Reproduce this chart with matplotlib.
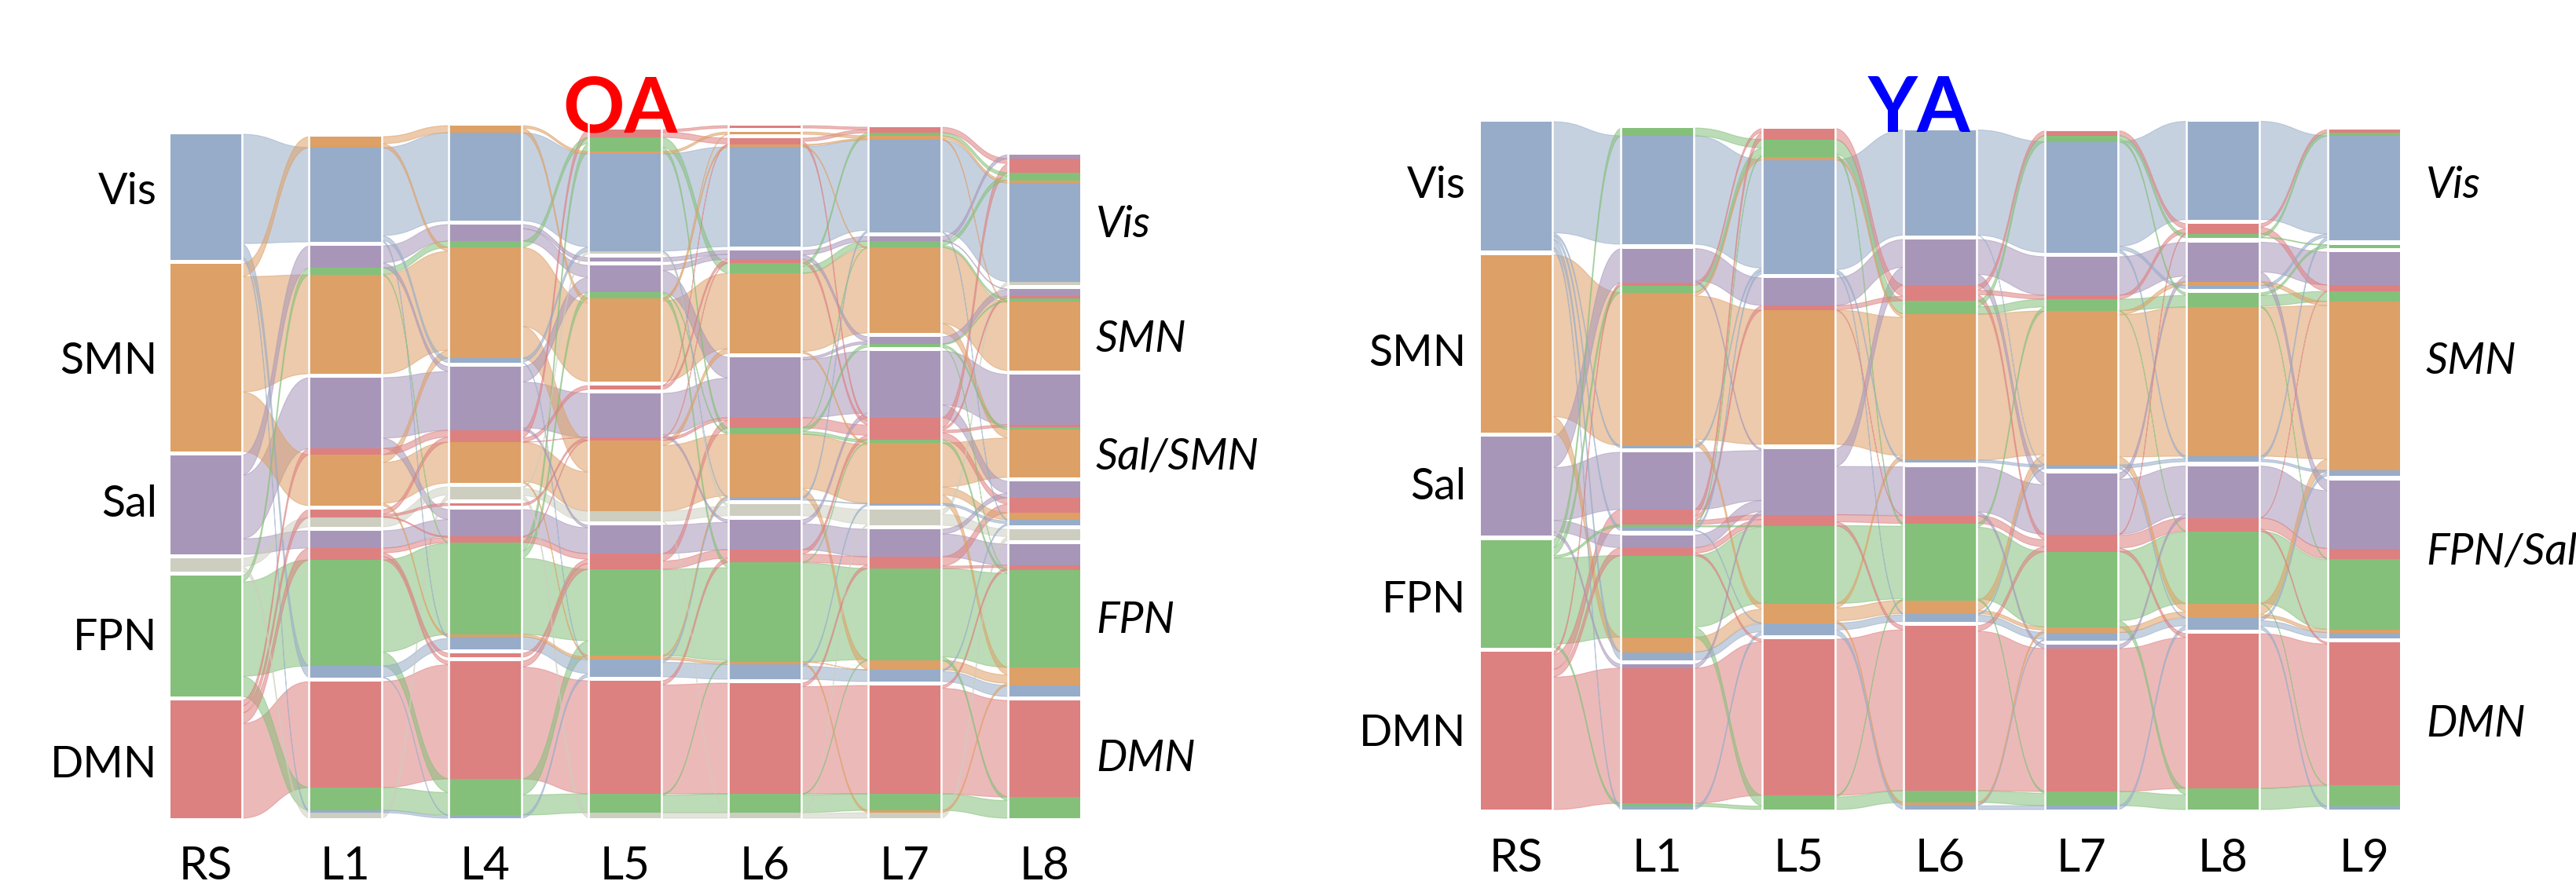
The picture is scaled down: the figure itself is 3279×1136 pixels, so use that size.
import matplotlib
matplotlib.use("Agg")
import matplotlib.pyplot as plt
from matplotlib.path import Path
from matplotlib.patches import PathPatch, Rectangle

plt.rcParams['font.family'] = ['Lato', 'DejaVu Sans']

# network colours (RS membership)
COLORS = {"V": "#97ACC8", "S": "#DDA066", "P": "#A896B9",
          "F": "#84C07A", "D": "#DD8080", "G": "#CDCEC0"}

# ---- OA: modules per layer, top to bottom, each a list of (network, size)
oa_layers = ["RS", "L1", "L4", "L5", "L6", "L7", "L8"]
oa_rs = [[("V", 160)], [("S", 239)], [("P", 126)], [("G", 17)], [("F", 154)], [("D", 150)]]
oa_l1 = [[("S", 14), ("V", 120)],
         [("P", 28), ("F", 9), ("S", 126)],
         [("P", 90), ("D", 8), ("S", 65)],
         [("D", 10), ("G", 12)],
         [("P", 22), ("D", 15), ("F", 135), ("V", 15)],
         [("D", 135), ("F", 29), ("V", 3), ("G", 7)]]
oa_l4 = [[("S", 9), ("V", 112)],
         [("P", 21), ("F", 8), ("S", 141), ("V", 6)],
         [("P", 81), ("D", 15), ("S", 52)],
         [("G", 16)],
         [("D", 3)],
         [("P", 34), ("D", 8), ("F", 117), ("S", 3), ("V", 16)],
         [("D", 5)],
         [("D", 150), ("F", 46), ("V", 4)]]
oa_l5 = [[("D", 10), ("F", 18), ("S", 3), ("V", 124), ("G", 3)],
         [("P", 5)],
         [("P", 34), ("F", 8), ("S", 106)],
         [("D", 5)],
         [("P", 56), ("D", 4), ("S", 90), ("G", 13)],
         [("P", 36), ("D", 20), ("F", 110), ("S", 5), ("V", 22)],
         [("D", 144), ("F", 24), ("G", 7)]]
oa_l6 = [[("D", 3)],
         [("S", 3)],
         [("D", 8), ("S", 3), ("V", 127)],
         [("P", 11), ("D", 5), ("F", 13), ("S", 102)],
         [("P", 77), ("D", 13), ("F", 8), ("S", 80), ("V", 4)],
         [("G", 15)],
         [("P", 38), ("D", 16), ("F", 127), ("S", 3), ("V", 19)],
         [("D", 141), ("F", 24), ("G", 7)]]
oa_l7 = [[("D", 7), ("F", 4), ("S", 5), ("V", 118)],
         [("P", 6), ("F", 8), ("S", 109)],
         [("P", 9), ("F", 4)],
         [("P", 85), ("D", 28), ("F", 4), ("S", 77), ("V", 3)],
         [("G", 20)],
         [("P", 35), ("D", 15), ("F", 117), ("S", 12), ("V", 15)],
         [("D", 138), ("F", 21), ("S", 3), ("G", 7)]]
oa_l8 = [[("P", 5), ("D", 18), ("F", 10), ("S", 3), ("V", 126), ("G", 4)],
         [("P", 9), ("D", 3), ("F", 4), ("S", 88)],
         [("P", 64), ("D", 3), ("F", 3), ("S", 61)],
         [("P", 21), ("D", 19), ("S", 9), ("V", 7)],
         [("G", 14)],
         [("P", 27), ("D", 6), ("F", 124), ("S", 23), ("V", 14)],
         [("D", 123), ("F", 27)]]
oa_left_labels = ["Vis", "SMN", "Sal", "FPN", "DMN"]
oa_left_y = [245, 460, 642, 813, 975]
oa_right_labels = ["Vis", "SMN", "Sal/SMN", "FPN", "DMN"]
oa_right_y = [287, 433, 582, 791, 967]

# ---- YA
ya_layers = ["RS", "L1", "L5", "L6", "L7", "L8", "L9"]
ya_rs = [[("V", 164)], [("S", 226)], [("P", 126)], [("F", 137)], [("D", 201)]]
ya_l1 = [[("F", 10), ("V", 138)],
         [("P", 43), ("D", 4), ("F", 9), ("S", 195), ("V", 3)],
         [("P", 73), ("D", 19), ("F", 3), ("V", 5)],
         [("P", 16), ("D", 10), ("F", 104), ("S", 19), ("V", 10)],
         [("P", 5), ("D", 172), ("F", 4), ("V", 4)]]
ya_l5 = [[("D", 14), ("F", 22), ("S", 4), ("V", 145)],
         [("P", 35), ("D", 6), ("S", 171)],
         [("P", 84), ("D", 14), ("F", 99), ("S", 25), ("V", 15)],
         [("D", 199), ("F", 18)]]
ya_l6 = [[("V", 134)],
         [("P", 58), ("D", 20), ("F", 17), ("S", 186), ("V", 3)],
         [("P", 62), ("D", 10), ("F", 98), ("S", 17), ("V", 10)],
         [("D", 210), ("F", 15), ("S", 3), ("V", 6)]]
ya_l7 = [[("D", 6), ("F", 8), ("V", 141)],
         [("P", 49), ("D", 5), ("F", 15), ("S", 196), ("V", 5)],
         [("P", 78), ("D", 22), ("F", 96), ("S", 7), ("V", 10)],
         [("P", 5), ("D", 182), ("F", 18), ("V", 5)]]
ya_l8 = [[("V", 125)],
         [("D", 13), ("F", 5)],
         [("P", 50), ("S", 5), ("V", 4)],
         [("F", 18), ("S", 190), ("V", 7)],
         [("P", 66), ("D", 17), ("F", 92), ("S", 18), ("V", 15)],
         [("D", 197), ("F", 27)]]
ya_l9 = [[("D", 4), ("F", 4), ("V", 133)],
         [("F", 4)],
         [("P", 42), ("D", 8), ("F", 13), ("S", 215), ("V", 7)],
         [("P", 87), ("D", 13), ("F", 90), ("S", 4), ("V", 7)],
         [("D", 182), ("F", 27), ("V", 4)]]
ya_left_labels = ["Vis", "SMN", "Sal", "FPN", "DMN"]
ya_left_y = [236, 450, 621, 764, 935]
ya_right_labels = ["Vis", "SMN", "FPN/Sal", "DMN"]
ya_right_y = [236, 460, 703, 922]


def stack(column, bottom, gap):
    """Stack modules upwards from the bottom; returns segments (net, top, bottom)."""
    total = sum(s for m in column for _, s in m) + gap * (len(column) - 1)
    y = bottom - total
    segs = []
    for m in column:
        for net, s in m:
            segs.append((net, y, y + s))
            y += s
        y += gap
    return segs


def cum_fractions(lst):
    tot = sum(b - t for t, b in lst)
    out, c = [0.0], 0.0
    for t, b in lst:
        c += (b - t) / tot
        out.append(c)
    return out


def flow_pieces(segs_a, segs_b):
    """Split each network's share between two layers in top-to-bottom order."""
    pieces = []
    for net in COLORS:
        A = [(t, b) for n, t, b in segs_a if n == net]
        B = [(t, b) for n, t, b in segs_b if n == net]
        if not A or not B:
            continue
        ca, cb = cum_fractions(A), cum_fractions(B)
        cuts = sorted(set(round(v, 9) for v in ca + cb))

        def ypos(lst, cs, k, f):
            t, b = lst[k]
            return t + (f - cs[k]) / (cs[k + 1] - cs[k]) * (b - t)

        for f0, f1 in zip(cuts[:-1], cuts[1:]):
            if f1 - f0 < 1e-6:
                continue
            fm = (f0 + f1) / 2
            ka = next(k for k in range(len(A)) if ca[k] <= fm <= ca[k + 1])
            kb = next(k for k in range(len(B)) if cb[k] <= fm <= cb[k + 1])
            pieces.append((net,
                           ypos(A, ca, ka, f0), ypos(A, ca, ka, f1),
                           ypos(B, cb, kb, f0), ypos(B, cb, kb, f1)))
    return pieces


def band(x0, x1, a0, a1, b0, b1):
    xm = (x0 + x1) / 2
    verts = [(x0, a0), (xm, a0), (xm, b0), (x1, b0),
             (x1, b1), (xm, b1), (xm, a1), (x0, a1), (x0, a0)]
    codes = [Path.MOVETO, Path.CURVE4, Path.CURVE4, Path.CURVE4,
             Path.LINETO, Path.CURVE4, Path.CURVE4, Path.CURVE4, Path.CLOSEPOLY]
    return Path(verts, codes)


def draw_alluvial(ax, columns, layers, x0, step, width, bottom, gap, tick_y):
    stacks = [stack(c, bottom, gap) for c in columns]
    xs = [x0 + i * step for i in range(len(columns))]
    # flows between neighbouring layers, widest first
    for i in range(len(columns) - 1):
        pieces = flow_pieces(stacks[i], stacks[i + 1])
        pieces.sort(key=lambda p: -(p[2] - p[1]))
        for net, a0, a1, b0, b1 in pieces:
            p = band(xs[i] + width, xs[i + 1], a0, a1, b0, b1)
            ax.add_patch(PathPatch(p, facecolor=COLORS[net], alpha=0.55,
                                   edgecolor=COLORS[net], lw=0.8, zorder=1))
    # module blocks
    for x, segs in zip(xs, stacks):
        for net, t, b in segs:
            ax.add_patch(Rectangle((x, t), width, b - t, facecolor=COLORS[net],
                                   edgecolor="none", zorder=3))
    top = min(s[0][1] for s in stacks)
    for x in xs:
        ax.vlines([x - 1.5, x + width + 1.5], top - 8, bottom + 2,
                  colors="white", lw=1.8, zorder=4)
    for x, name in zip(xs, layers):
        ax.text(x + width / 2, tick_y, name, ha="center", va="center",
                fontsize=42, zorder=5)


fig = plt.figure(figsize=(32.8, 11.36), dpi=100)
ax = fig.add_axes([0, 0, 1, 1])
ax.set_xlim(0, 3280)
ax.set_ylim(1136, 0)
ax.axis("off")

draw_alluvial(ax, [oa_rs, oa_l1, oa_l4, oa_l5, oa_l6, oa_l7, oa_l8], oa_layers,
              217, 178, 90, 1042, 5, 1104)
draw_alluvial(ax, [ya_rs, ya_l1, ya_l5, ya_l6, ya_l7, ya_l8, ya_l9], ya_layers,
              1885, 180, 90, 1031, 5.5, 1093)

for lab, y in zip(oa_left_labels, oa_left_y):
    ax.text(200, y, lab, ha="right", va="center", fontsize=40)
for lab, y in zip(oa_right_labels, oa_right_y):
    ax.text(1395, y, lab, ha="left", va="center", fontsize=40, style="italic")
for lab, y in zip(ya_left_labels, ya_left_y):
    ax.text(1866, y, lab, ha="right", va="center", fontsize=40)
for lab, y in zip(ya_right_labels, ya_right_y):
    ax.text(3088, y, lab, ha="left", va="center", fontsize=40, style="italic",
            clip_on=False)

ax.text(789, 140, "OA", color="red", fontsize=70, fontweight="bold",
        ha="center", va="center")
ax.text(2443, 140, "YA", color="blue", fontsize=70, fontweight="bold",
        ha="center", va="center")
# overall heading sits above the top edge; only its descender shows
ax.text(1222, -16, "g", color="black", fontsize=35, fontweight="bold",
        ha="center", va="baseline", clip_on=False)

fig.savefig("out.png", dpi=100)
